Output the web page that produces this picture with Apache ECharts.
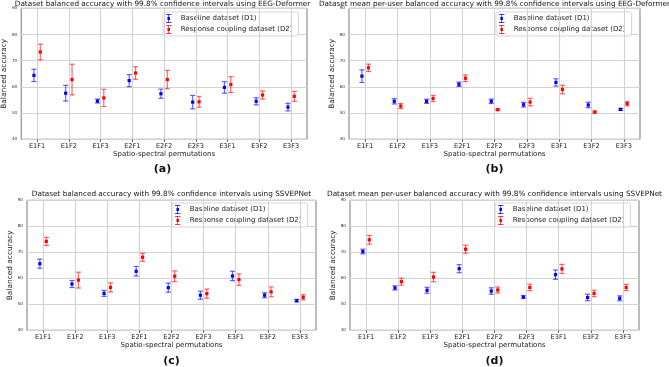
<!DOCTYPE html>
<html>
<head>
<meta charset="utf-8">
<script src="https://cdn.jsdelivr.net/npm/echarts@6/dist/echarts.min.js"></script>
<style>
  html, body { margin: 0; padding: 0; background: #fff; }
  #chart { width: 669px; height: 367px; }
</style>
</head>
<body>
<div id="chart"></div>
<script>
const categories = ['E1F1', 'E1F2', 'E1F3', 'E2F1', 'E2F2', 'E2F3', 'E3F1', 'E3F2', 'E3F3'];
const yTicks = [40, 50, 60, 70, 80, 90];

// (a) EEG-Deformer, dataset balanced accuracy: mean and half width of the 99.8% CI
const aD1Mean = [64.4, 57.6, 54.6, 62.4, 57.4, 54.2, 59.8, 54.5, 52.3];
const aD1Ci   = [2.35, 3.0, 0.75, 2.3, 1.75, 2.55, 2.2, 1.35, 1.45];
const aD2Mean = [73.3, 62.8, 55.8, 65.3, 62.8, 54.3, 60.9, 56.9, 56.4];
const aD2Ci   = [3.0, 5.85, 3.3, 2.4, 3.5, 2.05, 3.0, 1.55, 1.9];

// (b) EEG-Deformer, mean per-user balanced accuracy
const bD1Mean = [64.1, 54.5, 54.5, 61.0, 54.5, 53.2, 61.7, 53.1, 51.4];
const bD1Ci   = [2.4, 1.0, 0.8, 0.85, 0.85, 0.9, 1.4, 1.05, 0.4];
const bD2Mean = [67.3, 52.7, 55.6, 63.3, 51.3, 54.2, 59.0, 50.4, 53.6];
const bD2Ci   = [1.4, 0.95, 1.15, 1.25, 0.3, 1.45, 1.65, 0.4, 0.8];

// (c) SSVEPNet, dataset balanced accuracy
const cD1Mean = [65.6, 57.8, 54.2, 62.7, 56.4, 53.5, 60.9, 53.5, 51.4];
const cD1Ci   = [1.75, 1.35, 1.15, 1.85, 1.75, 1.55, 1.8, 0.95, 0.5];
const cD2Mean = [74.2, 59.3, 56.5, 68.1, 60.8, 54.1, 59.5, 54.8, 52.7];
const cD2Ci   = [1.55, 3.05, 1.75, 1.55, 2.05, 1.75, 2.2, 1.9, 1.0];

// (d) SSVEPNet, mean per-user balanced accuracy
const dD1Mean = [70.3, 56.3, 55.4, 63.7, 55.1, 52.8, 61.4, 52.6, 52.3];
const dD1Ci   = [0.9, 0.8, 1.15, 1.55, 1.25, 0.5, 1.8, 1.25, 0.95];
const dD2Mean = [74.8, 58.7, 60.5, 71.2, 55.5, 56.5, 63.6, 54.2, 56.5];
const dD2Ci   = [1.7, 1.35, 1.8, 1.55, 1.15, 1.25, 1.75, 1.25, 1.2];

const panels = [
  { title: 'Dataset balanced accuracy with 99.8% confidence intervals using EEG-Deformer', tag: '(a)',
    d1: [aD1Mean, aD1Ci], d2: [aD2Mean, aD2Ci] },
  { title: 'Dataset mean per-user balanced accuracy with 99.8% confidence intervals using EEG-Deformer', tag: '(b)',
    d1: [bD1Mean, bD1Ci], d2: [bD2Mean, bD2Ci] },
  { title: 'Dataset balanced accuracy with 99.8% confidence intervals using SSVEPNet', tag: '(c)',
    d1: [cD1Mean, cD1Ci], d2: [cD2Mean, cD2Ci] },
  { title: 'Dataset mean per-user balanced accuracy with 99.8% confidence intervals using SSVEPNet', tag: '(d)',
    d1: [dD1Mean, dD1Ci], d2: [dD2Mean, dD2Ci] }
];

// where each subplot sits on the page
const boxes = [
  { left: 18,  top: 8.3,   width: 289, height: 131, titleTop: 1,   tagTop: 164, nameGapY: 9,  legendTop: 12 },
  { left: 349, top: 8.3,   width: 291, height: 131, titleTop: 1,   tagTop: 164, nameGapY: 9,  legendTop: 12 },
  { left: 27,  top: 200.3, width: 289, height: 130, titleTop: 191, tagTop: 356, nameGapY: 11, legendTop: 203 },
  { left: 350, top: 200.3, width: 289, height: 130, titleTop: 191, tagTop: 356, nameGapY: 10, legendTop: 203 }
];

const D1 = 'Baseline dataset (D1)';
const D2 = 'Response coupling dataset (D2)';
const BLUE = '#0000ff';
const RED = '#ff0000';
const GRID_GREY = '#d3d3d3';
const FONT = 'DejaVu Sans';
// matplotlib style errorbar glyph for the legend
const ERR_ICON = 'path://M0,0h6v0.7h-6z M2.65,0h0.7v10h-0.7z M0,9.3h6v0.7h-6z M1.6,3.4h2.8v3.2h-2.8z';

function errorBar(shift, color) {
  return function (params, api) {
    const i = api.value(0);
    const m = api.value(1);
    const ci = api.value(2);
    const band = api.size([1, 0])[0];
    const mid = api.coord([i, m]);
    const x = mid[0] + shift * band;
    const yHi = api.coord([i, m + ci])[1];
    const yLo = api.coord([i, m - ci])[1];
    const cap = 2.6;
    const line = { stroke: color, lineWidth: 1.2, opacity: 0.6 };
    return {
      type: 'group',
      children: [
        { type: 'line', shape: { x1: x, y1: yHi, x2: x, y2: yLo }, style: line },
        { type: 'line', shape: { x1: x - cap, y1: yHi, x2: x + cap, y2: yHi }, style: line },
        { type: 'line', shape: { x1: x - cap, y1: yLo, x2: x + cap, y2: yLo }, style: line },
        { type: 'rect', shape: { x: x - 1.6, y: mid[1] - 1.6, width: 3.2, height: 3.2 }, style: { fill: color } }
      ]
    };
  };
}

const grid = [], xAxis = [], yAxis = [], series = [], title = [], legend = [];

panels.forEach((p, k) => {
  const b = boxes[k];
  grid.push({ left: b.left, top: b.top, width: b.width, height: b.height,
    show: true, borderColor: '#555', borderWidth: 0.8, backgroundColor: 'transparent' });

  xAxis.push({
    type: 'category', gridIndex: k, data: categories, boundaryGap: true,
    name: 'Spatio-spectral permutations', nameLocation: 'middle', nameGap: 10.5,
    nameTextStyle: { fontFamily: FONT, fontSize: 7, color: '#222' },
    axisLine: { show: false },
    axisTick: { show: true, alignWithLabel: true, length: 2.5, lineStyle: { color: '#555' } },
    axisLabel: { fontFamily: FONT, fontSize: 6.6, color: '#222', margin: 3.5 },
    splitLine: { show: false }
  });

  yAxis.push({
    type: 'value', gridIndex: k, min: yTicks[0], max: yTicks[yTicks.length - 1], interval: 10,
    name: 'Balanced accuracy', nameLocation: 'middle', nameGap: b.nameGapY,
    nameTextStyle: { fontFamily: FONT, fontSize: 7.4, color: '#222' },
    axisLine: { show: false },
    axisTick: { show: false },
    axisLabel: { fontFamily: FONT, fontSize: 4.2, color: '#333', margin: 4 },
    splitLine: { show: true, lineStyle: { color: GRID_GREY, width: 1.1 } }
  });

  const cx = b.left + b.width / 2;
  title.push({
    text: p.title, left: cx, top: b.titleTop, textAlign: 'center', padding: 0,
    textStyle: { fontFamily: FONT, fontSize: 7.3, fontWeight: 'normal', color: '#111' }
  });
  title.push({
    text: p.tag, left: cx, top: b.tagTop, textAlign: 'center', padding: 0,
    textStyle: { fontFamily: FONT, fontSize: 11, fontWeight: 'bold', color: '#111' }
  });

  legend.push({
    orient: 'vertical', left: b.left + b.width - 144, top: b.legendTop,
    padding: [2, 6, 2, 3], itemGap: 2, itemWidth: 14, itemHeight: 9,
    backgroundColor: 'rgba(255,255,255,0.85)', borderColor: '#ccc', borderWidth: 0.8, borderRadius: 2,
    textStyle: { fontFamily: FONT, fontSize: 7, color: '#222' },
    data: [{ name: D1, icon: ERR_ICON }, { name: D2, icon: ERR_ICON }]
  });

  // vertical grid lines through the category ticks (matplotlib puts them on the labels)
  series.push({
    type: 'line', xAxisIndex: k, yAxisIndex: k, data: [], z: 1, silent: true,
    markLine: {
      silent: true, symbol: ['none', 'none'], label: { show: false },
      lineStyle: { color: GRID_GREY, width: 1.1, type: 'solid' },
      emphasis: { disabled: true },
      data: categories.map(c => ({ xAxis: c }))
    }
  });

  [[D1, p.d1, -0.1, BLUE], [D2, p.d2, 0.1, RED]].forEach(([name, d, shift, color]) => {
    series.push({
      type: 'custom', name: name, xAxisIndex: k, yAxisIndex: k, z: 3,
      itemStyle: { color: color },
      clip: false,
      renderItem: errorBar(shift, color),
      encode: { x: 0, y: 1 },
      data: d[0].map((m, i) => [i, m, d[1][i]])
    });
  });
});

const chart = echarts.init(document.getElementById('chart'));
chart.setOption({
  animation: false,
  backgroundColor: '#fff',
  title: title,
  legend: legend,
  grid: grid,
  xAxis: xAxis,
  yAxis: yAxis,
  series: series
});
</script>
</body>
</html>
